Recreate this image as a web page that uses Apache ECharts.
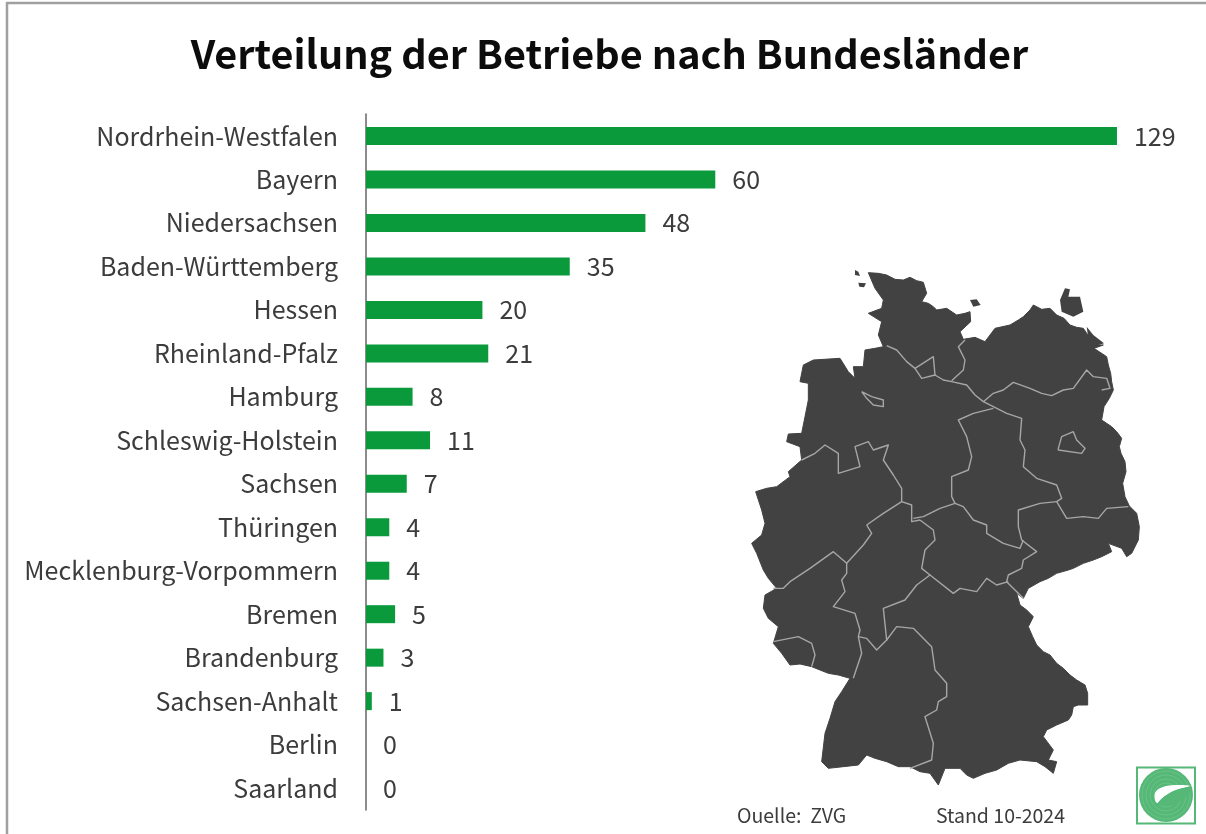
<!DOCTYPE html>
<html>
<head>
<meta charset="utf-8">
<title>Verteilung der Betriebe nach Bundesländer</title>
<script src="https://cdn.jsdelivr.net/npm/echarts@6/dist/echarts.min.js"></script>
<style>
  html, body { margin: 0; padding: 0; background: #fff; }
  #chart { width: 1206px; height: 834px; }
</style>
</head>
<body>
<div id="chart"></div>
<script>
const states = ['Nordrhein-Westfalen', 'Bayern', 'Niedersachsen', 'Baden-Württemberg', 'Hessen', 'Rheinland-Pfalz',
  'Hamburg', 'Schleswig-Holstein', 'Sachsen', 'Thüringen', 'Mecklenburg-Vorpommern', 'Bremen', 'Brandenburg',
  'Sachsen-Anhalt', 'Berlin', 'Saarland']
const betriebe = [129, 60, 48, 35, 20, 21, 8, 11, 7, 4, 4, 5, 3, 1, 0, 0]

const FONT = '"Noto Sans CJK SC", "Noto Sans", sans-serif'
const GREEN = '#0a9a3c'
const MAP_FILL = '#424242'
const MAP_LINE = '#a6a6a6'

// map artwork, traced at 3x: north half from y 250, south half offset by 780
const outlineNorth = [[385,68],[415,70],[440,75],[465,88],[490,90],[510,82],[530,92],[550,97],[560,130],[545,155],[565,160],[580,170],[590,180],[620,175],[650,195],
  [675,190],[690,185],[692,215],[660,245],[670,268],[705,262],[735,275],[750,255],[765,235],[810,225],[835,210],[850,200],[870,180],[880,165],[905,178],[930,175],[950,195],
  [972,205],[990,225],[1010,232],[1030,235],[1048,262],[1065,285],[1090,285],[1062,295],[1100,320],[1105,345],[1112,370],[1115,395],[1120,420],[1108,445],[1092,470],[1085,510],[1115,530],
  [1130,545],[1145,565],[1138,590],[1143,610],[1155,635],[1158,665],[1148,700],[1155,740],[1168,768],[1190,790],[1198,830]]
const outlineSouth = [[1195,90],[1175,130],[1160,140],[1145,115],[1105,100],[1115,125],[1085,140],[1060,150],[1030,160],[1000,175],[985,180],[950,190],
  [925,205],[900,215],[865,235],[850,265],[830,250],[840,285],[860,300],[880,320],[865,350],[878,380],[890,405],[910,425],[930,435],[950,460],[970,475],[990,495],[1010,510],[1035,525],[1043,550],[1043,585],
  [1015,585],[1000,590],[995,615],[985,630],[950,645],[920,660],[910,680],[940,720],[925,750],[950,755],[940,790],[915,770],[890,755],[840,750],[805,760],[770,780],
  [735,790],[700,805],[680,795],[660,775],[615,775],[595,825],[570,790],[540,785],[510,770],[475,770],[440,755],[405,745],[380,735],[355,765],[310,770],[265,775],[245,755],[255,670],
  [270,625],[285,575],[305,545],[330,505],[295,495],[265,490],[215,470],[180,462],[150,465],[125,430],[100,400],[115,350],[85,325],[70,295],[75,255],[110,235],[85,205],[70,180],[50,130],
  [35,100],[65,75],[75,40]]
const outlineWest = [[65,780],[47,725],[80,715],[110,710],[150,680],[145,665],[185,630],[180,590],[140,575],[145,552],[185,550],
  [195,500],[205,450],[205,400],[180,395],[190,345],[220,330],[300,325],[325,365],[345,385],[340,350],[370,350],[375,300],[405,295],[430,290],
  [415,255],[425,215],[385,190],[425,175],[430,150],[405,115]]
const islands = [
  [[345,60],[355,65],[360,78],[345,75]],
  [[355,98],[378,100],[372,112],[358,110]],
  [[690,150],[710,148],[722,165],[700,170]],
  [[975,115],[990,118],[985,140],[1020,140],[1030,185],[1000,200],[965,185],[960,150]],
  [[1040,230],[1060,255],[1092,280],[1060,290],[1045,265]]
]
const bordersNorth = [
  [[440,287],[470,300],[500,335],[525,355],[545,385],[585,375],[610,390],[635,395],[680,405],[705,435],[730,455],[760,470],[800,490],[845,505],[840,570],[855,600],[850,650],[890,685],[950,705],[965,745],[950,755],[980,805],[1030,800],[1075,805],[1100,775],[1165,770]],
  [[525,355],[580,320],[585,375]],
  [[675,270],[655,290],[675,330],[670,360],[635,392]],
  [[730,455],[760,430],[790,420],[820,397],[870,415],[905,430],[935,437],[970,420],[1000,415],[1040,360],[1060,380],[1100,385],[1110,415],[1085,420]],
  [[760,475],[700,490],[655,510],[680,560],[695,620],[685,660],[635,680],[635,740],[645,760],[670,770],[700,810],[740,825],[740,850],[790,880],[840,895],[850,870]],
  [[950,755],[900,760],[835,780],[835,830],[845,870],[890,905],[850,930],[845,955],[805,975],[800,995],[850,1045]],
  [[365,425],[395,440],[430,450],[430,470],[400,465],[380,445],[365,425]],
  [[955,595],[965,560],[1000,545],[1010,570],[1035,595],[1025,610],[955,600],[955,595]],
  [[185,630],[225,610],[255,585],[295,610],[295,670],[360,650],[345,590],[385,575],[400,600],[445,585],[430,630],[460,675],[485,715],[485,755],[515,765],[515,815],[540,810]],
  [[645,760],[600,775],[550,800],[520,805]],
  [[485,755],[430,790],[380,825]]
]
const bordersSouth = [
  [[380,45],[395,70],[370,105],[320,160],[280,125],[210,175],[150,215],[130,235],[100,235]],
  [[320,160],[320,190],[305,210],[315,245],[280,290],[345,310],[360,360],[355,380],[365,430],[340,505]],
  [[540,30],[580,60],[585,90],[555,120],[545,175],[570,195],[530,225],[495,270],[430,295],[440,390],[410,420],[380,385],[355,380]],
  [[440,390],[470,350],[520,355],[575,410],[585,480],[620,520],[620,560],[595,575],[590,600],[555,620],[580,700],[575,750],[510,775]],
  [[570,195],[640,250],[660,235],[710,245],[740,205],[770,225],[805,215]],
  [[100,395],[175,380],[215,400],[225,435],[215,470]]
]

const toPage = ([x, y]) => [740 + x / 3, 250 + y / 3]
const shiftSouth = ([x, y]) => [x, y + 780]
const outline = [...outlineNorth, ...outlineSouth.map(shiftSouth), ...outlineWest].map(toPage)
const borders = [...bordersNorth, ...bordersSouth.map(line => line.map(shiftSouth))]
  .map(line => line.map(toPage))

const mapGraphics = [
  { type: 'polygon', shape: { points: outline }, style: { fill: MAP_FILL, stroke: MAP_FILL, lineWidth: 1, lineJoin: 'round' } },
  ...islands.map(pts => ({ type: 'polygon', shape: { points: pts.map(toPage) }, style: { fill: MAP_FILL } })),
  ...borders.map(line => ({
    type: 'polyline', shape: { points: line },
    style: { stroke: MAP_LINE, lineWidth: 1.4, fill: null, lineJoin: 'round' },
  })),
]

// round seal, bottom right corner
const LOGO = { x: 1166, y: 795, r: 27 }
const logoRings = [24, 20, 16, 12, 8].map(r => ({
  type: 'circle', shape: { cx: LOGO.x, cy: LOGO.y, r },
  style: { fill: null, stroke: '#6fc48c', lineWidth: 0.8 },
}))
const logoGraphics = [
  { type: 'rect', shape: { x: 1137, y: 767.5, width: 58, height: 56 }, style: { fill: '#fff', stroke: '#55b877', lineWidth: 2 } },
  { type: 'circle', shape: { cx: LOGO.x, cy: LOGO.y, r: LOGO.r }, style: { fill: '#55b877' } },
  ...logoRings,
  { type: 'polygon', shape: { points: [[1157,803],[1155,793],[1163,787],[1175,785],[1190,786],[1176,790],[1165,796]], smooth: 0.4 }, style: { fill: '#fff' } },
  { type: 'polygon', shape: { points: [[1158,804],[1168,794],[1180,789],[1192,787],[1186,797],[1172,805]], smooth: 0.4 }, style: { fill: '#55b877' } },
]

const chart = echarts.init(document.getElementById('chart'), null, { renderer: 'canvas' })
chart.setOption({
  animation: false,
  backgroundColor: '#fff',
  textStyle: { fontFamily: FONT },
  title: {
    text: 'Verteilung der Betriebe nach Bundesländer',
    left: 604.5, top: 29, textAlign: 'center',
    textStyle: { fontFamily: FONT, fontSize: 39.6, fontWeight: 700, color: '#0c0c0c' },
  },
  grid: { left: 366, top: 114.3, width: 815, height: 695.5 },
  xAxis: { type: 'value', min: 0, max: 140, show: false },
  yAxis: {
    type: 'category', data: states, inverse: true,
    axisLine: { lineStyle: { color: '#8c8c8c', width: 2 } },
    axisTick: { show: false },
    axisLabel: { fontFamily: FONT, fontSize: 25, color: '#3c3c3c', margin: 28 },
  },
  series: [{
    type: 'bar', data: betriebe, barWidth: 18, z: 3,
    itemStyle: { color: GREEN },
    label: { show: true, position: 'right', distance: 17, fontFamily: FONT, fontSize: 25, color: '#3c3c3c' },
  }],
  graphic: [
    // outer frame, open on the right and bottom
    { type: 'polyline', shape: { points: [[7, 834], [7, 3], [1206, 3]] }, style: { stroke: '#a0a0a0', lineWidth: 2.5, fill: null } },
    ...mapGraphics,
    ...logoGraphics,
    { type: 'text', x: 737, y: 806, style: { text: 'Ouelle:  ZVG', font: `19.5px ${FONT}`, fill: '#3c3c3c' } },
    { type: 'text', x: 936, y: 806, style: { text: 'Stand 10-2024', font: `19.5px ${FONT}`, fill: '#3c3c3c' } },
  ],
})
</script>
</body>
</html>
